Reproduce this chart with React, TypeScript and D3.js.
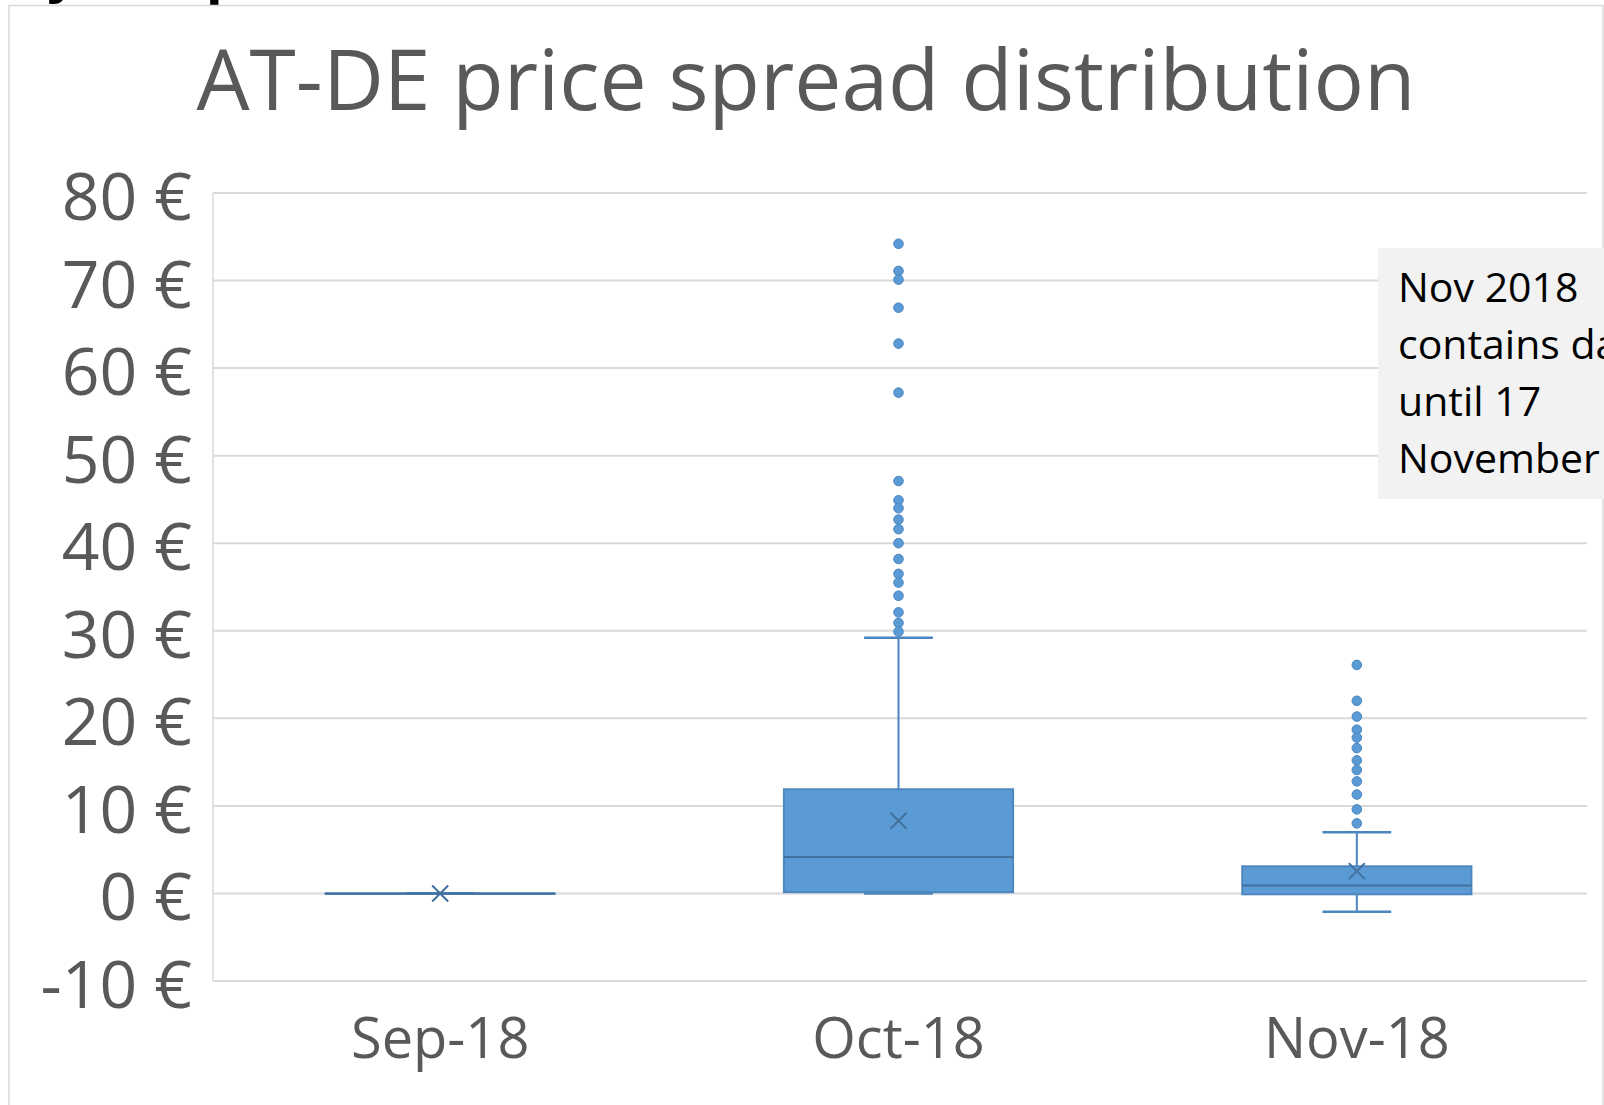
import React, { useRef, useEffect } from "react";
import * as d3 from "d3";

const months = ["Sep-18", "Oct-18", "Nov-18"];
const lowWhisker = [0, 0, -2.1];
const q1 = [0, 0.15, -0.1];
const median = [0, 4.15, 0.9];
const q3 = [0, 11.9, 3.1];
const highWhisker = [0, 29.2, 7.0];
const means = [0, 8.3, 2.55];
const outliers = [
  [],
  [74.2, 71.1, 70.1, 66.9, 62.8, 57.2, 47.1, 44.9, 44.0, 42.7, 41.6, 40.0, 38.2, 36.5, 35.5, 34.0, 32.1, 30.9, 29.9],
  [26.1, 22.0, 20.2, 18.7, 17.8, 16.6, 15.2, 14.1, 12.8, 11.3, 9.6, 8.0],
];
const yTicks = [80, 70, 60, 50, 40, 30, 20, 10, 0, -10];
const noteLines = ["Nov 2018", "contains data", "until 17", "November"];

export default function App() {
  const svgRef = useRef<SVGSVGElement>(null);

  useEffect(() => {
    const width = 1604;
    const height = 1105;
    const font = "'Open Sans', sans-serif";
    const grey = "#595959";
    const blue = "#5b9bd5";
    const dark = "#41719c";

    const svg = d3.select(svgRef.current)
      .attr("width", width)
      .attr("height", height)
      .attr("viewBox", [0, 0, width, height])
      .style("position", "absolute")
      .style("left", 0)
      .style("top", 0)
      .style("background", "#fff");

    svg.selectAll("*").remove();

    // bits of the slide heading above the chart
    svg.append("text").attr("x", 46).attr("y", -8)
      .attr("font-family", "'Liberation Sans', sans-serif").attr("font-weight", "bold")
      .attr("font-size", 60).attr("fill", "#000").text("y");
    svg.append("text").attr("x", 206).attr("y", -6)
      .attr("font-family", "'Liberation Sans', sans-serif").attr("font-weight", "bold")
      .attr("font-size", 60).attr("fill", "#000").text("p");

    // chart frame
    svg.append("rect")
      .attr("x", 9).attr("y", 5.5)
      .attr("width", 1594).attr("height", 1200)
      .attr("fill", "none").attr("stroke", "#d9d9d9").attr("stroke-width", 1.5);

    const x = d3.scaleBand().domain(months).range([211, 1586]).padding(0);
    const y = d3.scaleLinear().domain([-10, 80]).range([981, 193]);
    const bw = x.bandwidth();
    const boxW = bw * 0.5;
    const capW = bw * 0.15;

    // title
    svg.append("text")
      .attr("x", 806).attr("y", 110)
      .attr("text-anchor", "middle")
      .attr("font-family", font).attr("font-size", 84)
      .attr("fill", grey)
      .text("AT-DE price spread distribution");

    // gridlines
    svg.append("g")
      .selectAll("line")
      .data(yTicks)
      .join("line")
        .attr("x1", 213).attr("x2", 1587)
        .attr("y1", d => y(d)).attr("y2", d => y(d))
        .attr("stroke", "#d9d9d9").attr("stroke-width", 2);

    svg.append("line")
      .attr("x1", 213).attr("x2", 213)
      .attr("y1", y(80)).attr("y2", y(-10))
      .attr("stroke", "#d9d9d9").attr("stroke-width", 1.5);

    // y labels
    svg.append("g")
      .selectAll("text")
      .data(yTicks)
      .join("text")
        .attr("x", 192).attr("y", d => y(d) + 27)
        .attr("text-anchor", "end")
        .attr("font-family", font).attr("font-size", 66)
        .attr("fill", grey)
        .text(d => `${d} €`);

    // x labels
    svg.append("g")
      .selectAll("text")
      .data(months)
      .join("text")
        .attr("x", d => x(d)! + bw / 2).attr("y", 1058)
        .attr("text-anchor", "middle")
        .attr("font-family", font).attr("font-size", 56)
        .attr("fill", grey)
        .text(d => d);

    const boxes = svg.append("g")
      .selectAll("g")
      .data(months)
      .join("g")
        .attr("transform", d => `translate(${x(d)! + bw / 2},0)`);

    // whiskers
    boxes.append("line")
      .attr("x1", 0).attr("x2", 0)
      .attr("y1", (d, i) => y(highWhisker[i])).attr("y2", (d, i) => y(lowWhisker[i]))
      .attr("stroke", "#4a86c0").attr("stroke-width", 2);
    boxes.append("line")
      .attr("x1", -capW / 2).attr("x2", capW / 2)
      .attr("y1", (d, i) => y(highWhisker[i])).attr("y2", (d, i) => y(highWhisker[i]))
      .attr("stroke", "#4a86c0").attr("stroke-width", 2.5);
    boxes.append("line")
      .attr("x1", -capW / 2).attr("x2", capW / 2)
      .attr("y1", (d, i) => y(lowWhisker[i])).attr("y2", (d, i) => y(lowWhisker[i]))
      .attr("stroke", "#4a86c0").attr("stroke-width", 2.5);

    // box
    boxes.append("rect")
      .attr("x", -boxW / 2).attr("width", boxW)
      .attr("y", (d, i) => y(q3[i]))
      .attr("height", (d, i) => Math.max(0.5, y(q1[i]) - y(q3[i])))
      .attr("fill", blue).attr("stroke", "#4f86bd").attr("stroke-width", 2);

    // median
    boxes.append("line")
      .attr("x1", -boxW / 2).attr("x2", boxW / 2)
      .attr("y1", (d, i) => y(median[i])).attr("y2", (d, i) => y(median[i]))
      .attr("stroke", dark).attr("stroke-width", 2);

    // mean marker
    const m = 8;
    boxes.append("path")
      .attr("d", (d, i) => {
        const cy = y(means[i]);
        return `M${-m},${cy - m}L${m},${cy + m}M${-m},${cy + m}L${m},${cy - m}`;
      })
      .attr("stroke", dark).attr("stroke-width", 2).attr("fill", "none");

    // outliers
    boxes.selectAll("circle")
      .data((d, i) => outliers[i])
      .join("circle")
        .attr("cx", 0).attr("cy", d => y(d))
        .attr("r", 4.8)
        .attr("fill", blue).attr("stroke", "#4a86c0").attr("stroke-width", 1);

    // note box
    svg.append("rect")
      .attr("x", 1378).attr("y", 248)
      .attr("width", 260).attr("height", 251)
      .attr("fill", "#f2f2f2");
    svg.append("g")
      .selectAll("text")
      .data(noteLines)
      .join("text")
        .attr("x", 1398).attr("y", (d, i) => 301.5 + i * 57)
        .attr("font-family", font).attr("font-size", 41)
        .attr("fill", "#000")
        .text(d => d);
  }, []);

  return <svg ref={svgRef}></svg>;
}
